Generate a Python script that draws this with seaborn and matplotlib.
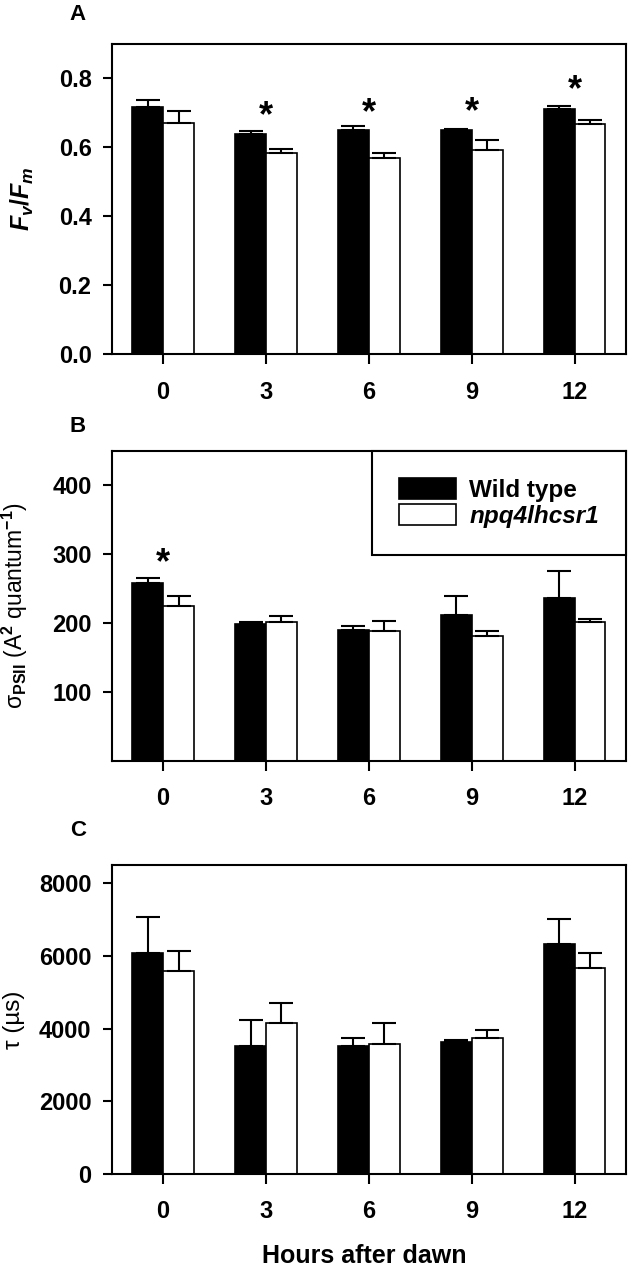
import matplotlib
matplotlib.use('Agg')
import matplotlib.pyplot as plt
from matplotlib.patches import Patch
from matplotlib.ticker import FormatStrFormatter
import seaborn as sns
import pandas as pd
import numpy as np

# data (mean and upper SE)
hours = ['0', '3', '6', '9', '12']
lines = ['Wild type', 'npq4lhcsr1']

fvfm_wt = [0.717, 0.637, 0.650, 0.651, 0.712]
fvfm_wt_err = [0.021, 0.009, 0.012, 0.002, 0.007]
fvfm_mut = [0.669, 0.582, 0.568, 0.593, 0.668]
fvfm_mut_err = [0.035, 0.012, 0.015, 0.028, 0.011]

sigma_wt = [258, 198, 190, 212, 236]
sigma_wt_err = [8, 4, 6, 28, 39]
sigma_mut = [225, 202, 188, 181, 201]
sigma_mut_err = [14, 8, 15, 8, 5]

tau_wt = [6070, 3525, 3516, 3635, 6320]
tau_wt_err = [1010, 703, 228, 64, 703]
tau_mut = [5590, 4155, 3571, 3735, 5662]
tau_mut_err = [540, 539, 593, 228, 420]

# significance stars (hour, y of star centre)
stars_a_hours = ['3', '6', '9', '12']
stars_a_y = [0.718, 0.727, 0.729, 0.794]
stars_b_hours = ['0']
stars_b_y = [301]

palette = {'Wild type': 'black', 'npq4lhcsr1': 'white'}

sns.set_style('ticks')
plt.rcParams['font.family'] = ['Liberation Sans', 'DejaVu Sans']
plt.rcParams['font.weight'] = 'bold'
plt.rcParams['mathtext.fontset'] = 'custom'
plt.rcParams['mathtext.rm'] = 'Liberation Sans:bold'
plt.rcParams['mathtext.it'] = 'Liberation Sans:italic:bold'
plt.rcParams['mathtext.bf'] = 'Liberation Sans:bold'
plt.rcParams['axes.linewidth'] = 1.5
for key in ['text.color', 'axes.labelcolor', 'xtick.color', 'ytick.color',
            'axes.edgecolor']:
    plt.rcParams[key] = 'black'


def long_table(wt, mut):
    return pd.DataFrame({
        'hour': hours * 2,
        'line': [lines[0]] * len(hours) + [lines[1]] * len(hours),
        'value': wt + mut,
    })


def draw_panel(ax, wt, wt_err, mut, mut_err):
    df = long_table(wt, mut)
    sns.barplot(data=df, x='hour', y='value', hue='line', order=hours,
                hue_order=lines, palette=palette, edgecolor='black',
                linewidth=1.2, width=0.6, saturation=1, errorbar=None,
                legend=False, ax=ax)
    # upper-only error bars
    for bars, errs in zip(ax.containers, [wt_err, mut_err]):
        xs = [b.get_x() + b.get_width() / 2 for b in bars]
        ys = [b.get_height() for b in bars]
        ax.errorbar(xs, ys, yerr=[np.zeros(len(errs)), errs], fmt='none',
                    ecolor='black', elinewidth=1.5, capsize=8.5,
                    capthick=1.5, zorder=3)
    ax.set_xlim(-0.5, 4.5)
    ax.set_xlabel('')
    for s in ax.spines.values():
        s.set_visible(True)
        s.set_linewidth(1.5)
        s.set_color('black')
    ax.tick_params(axis='y', direction='out', length=6.5, width=1.5,
                   labelsize=17, pad=8)
    ax.tick_params(axis='x', direction='out', length=7, width=1.5,
                   labelsize=17, pad=12)


def add_stars(ax, star_hours, star_y, fs=26):
    for h, y in zip(star_hours, star_y):
        ax.annotate('*', (hours.index(h), y), xytext=(0, -0.55 * fs),
                    textcoords='offset points', ha='center', va='baseline',
                    fontsize=fs, fontweight='bold')


fig = plt.figure(figsize=(6.31, 12.68), dpi=100)
left, width = 0.177, 0.815
ax_a = fig.add_axes([left, 0.7206, width, 0.245])
ax_b = fig.add_axes([left, 0.4001, width, 0.2442])
ax_c = fig.add_axes([left, 0.0741, width, 0.2437])

# A
draw_panel(ax_a, fvfm_wt, fvfm_wt_err, fvfm_mut, fvfm_mut_err)
ax_a.set_ylim(0, 0.9)
ax_a.set_yticks([0, 0.2, 0.4, 0.6, 0.8])
ax_a.yaxis.set_major_formatter(FormatStrFormatter('%.1f'))
ax_a.set_ylabel(r'$F_v/F_m$', fontsize=18)
ax_a.yaxis.set_label_coords(-0.147, 0.5)
add_stars(ax_a, stars_a_hours, stars_a_y)

# B
draw_panel(ax_b, sigma_wt, sigma_wt_err, sigma_mut, sigma_mut_err)
ax_b.set_ylim(0, 450)
ax_b.set_yticks([100, 200, 300, 400])
ax_b.set_ylabel(r'σ$_{\mathrm{PSII}}$ (A$^{2}$ quantum$^{-1}$)', fontsize=16.5)
ax_b.yaxis.set_label_coords(-0.159, 0.5)
add_stars(ax_b, stars_b_hours, stars_b_y)
handles = [Patch(facecolor=palette[l], edgecolor='black', linewidth=1.2)
           for l in lines]
leg = ax_b.legend(handles, lines, loc='upper right', borderaxespad=0,
                  fancybox=False, framealpha=1, edgecolor='black',
                  fontsize=17.5, borderpad=1.1, handlelength=2.35,
                  handleheight=0.95, handletextpad=0.55, labelspacing=0.1)
leg.get_frame().set_linewidth(1.5)
leg.get_texts()[1].set_fontstyle('italic')

# C
draw_panel(ax_c, tau_wt, tau_wt_err, tau_mut, tau_mut_err)
ax_c.set_ylim(0, 8500)
ax_c.set_yticks([0, 2000, 4000, 6000, 8000])
ax_c.set_ylabel('τ (µs)', fontsize=17.5)
ax_c.yaxis.set_label_coords(-0.169, 0.5)

fig.text(0.577, 1 - 1256 / 1268, 'Hours after dawn', ha='center',
         va='center', fontsize=18, fontweight='bold')

for letter, ypix in zip(['A', 'B', 'C'], [14, 426, 830]):
    fig.text(78 / 631, 1 - ypix / 1268, letter, ha='center', va='center',
             fontsize=16, fontweight='bold')

fig.savefig('out.png', dpi=100)
